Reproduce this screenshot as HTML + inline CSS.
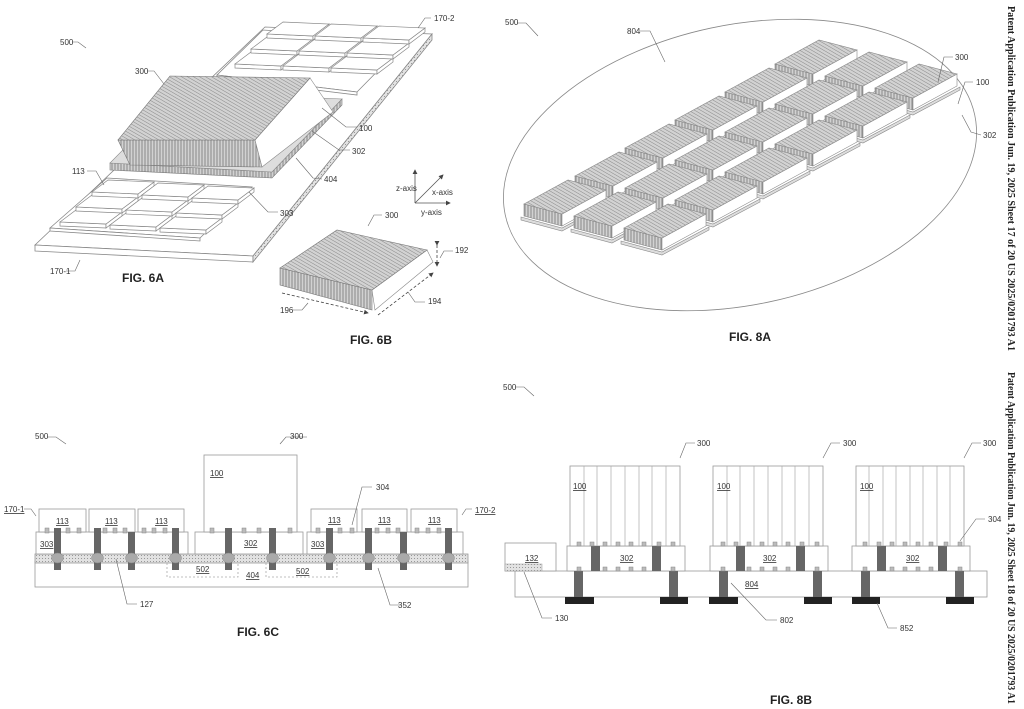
<!DOCTYPE html>
<html><head><meta charset="utf-8"><style>
html,body{margin:0;padding:0;background:#fff}
svg{display:block}
text{font-family:"Liberation Sans",sans-serif;font-size:8px;fill:#333}
.fig{font-size:12px;font-weight:bold;fill:#222}
.u{text-decoration:underline}
.hdr{font-family:"Liberation Serif",serif;font-size:10px;font-weight:bold;fill:#222}
</style></head><body>
<svg width="1024" height="709" viewBox="0 0 1024 709" xmlns="http://www.w3.org/2000/svg">
<defs>
<pattern id="hd" width="3" height="3" patternUnits="userSpaceOnUse" patternTransform="rotate(-60)"><rect width="3" height="3" fill="#d2d2d2"/><line x1="0" y1="0" x2="0" y2="3" stroke="#888" stroke-width="1"/></pattern>
<pattern id="hv" width="3" height="3" patternUnits="userSpaceOnUse"><rect width="3" height="3" fill="#d2d2d2"/><line x1="1" y1="0" x2="1" y2="3" stroke="#888" stroke-width="1"/></pattern>
<pattern id="dt" width="3" height="3" patternUnits="userSpaceOnUse"><rect width="3" height="3" fill="#e2e2e2"/><rect width="1" height="1" fill="#999"/></pattern>
<g id="chip" fill="#fff" stroke="#888" stroke-width="0.7">
<polygon points="0,0 46,2 46,6 0,4"/><polygon points="46,2 62,-10 62,-6 46,6"/><polygon points="0,0 16,-12 62,-10 46,2"/>
</g>
<g id="hs" stroke="#888" stroke-width="0.6">
<polygon points="-3,13 38,24 85,-1 85,2 38,27 -3,16" fill="#ddd"/>
<polygon points="0,0 38,10 38,22 0,12" fill="url(#hv)"/>
<polygon points="38,10 82,-14 82,-2 38,22" fill="#fff"/>
<polygon points="0,0 44,-24 82,-14 38,10" fill="url(#hd)"/>
</g>
<marker id="ar" markerWidth="6" markerHeight="6" refX="5" refY="3" orient="auto"><path d="M0,0 L6,3 L0,6z" fill="#444"/></marker>
</defs>

<!-- ===== FIG 6A ===== -->
<g stroke="#888" stroke-width="0.8" fill="#fff">
<polygon points="35,245 253,256 432,34 265,27"/>
<polygon points="35,245 253,256 253,262 35,251"/>
<polygon points="253,256 432,34 432,40 253,262" fill="url(#dt)"/>
<polygon points="50,228 200,238 252,187 107,178"/>
<polygon points="50,228 200,238 200,241 50,231"/>
<polygon points="217,75 357,92 408,40 263,30"/>
<polygon points="217,75 357,92 357,95 217,78"/>
</g>
<use href="#chip" x="60" y="222"/><use href="#chip" x="110" y="225"/><use href="#chip" x="160" y="228"/>
<use href="#chip" x="76" y="207"/><use href="#chip" x="126" y="210"/><use href="#chip" x="176" y="213"/>
<use href="#chip" x="92" y="192"/><use href="#chip" x="142" y="195"/><use href="#chip" x="192" y="198"/>
<use href="#chip" x="235" y="64"/><use href="#chip" x="283" y="66"/><use href="#chip" x="331" y="68"/>
<use href="#chip" x="251" y="49"/><use href="#chip" x="299" y="51"/><use href="#chip" x="347" y="53"/>
<use href="#chip" x="267" y="34"/><use href="#chip" x="315" y="36"/><use href="#chip" x="363" y="38"/>
<polygon points="110,163 272,172 342,99 342,105 272,178 110,170" fill="url(#hv)" stroke="#777" stroke-width="0.6"/>
<polygon points="110,163 272,172 342,99 180,92" fill="#ddd" stroke="#888" stroke-width="0.6"/>
<polygon points="118,140 255,140 262,167 130,165" fill="url(#hv)" stroke="#777" stroke-width="0.6"/>
<polygon points="310,78 333,112 262,167 255,140" fill="#fff" stroke="#888" stroke-width="0.6"/>
<polygon points="118,140 170,76 310,78 255,140" fill="url(#hd)" stroke="#777" stroke-width="0.6"/>
<g stroke="#555" stroke-width="0.8" fill="none">
<line x1="415" y1="203" x2="415" y2="170" marker-end="url(#ar)"/>
<line x1="415" y1="203" x2="450" y2="203" marker-end="url(#ar)"/>
<line x1="415" y1="203" x2="443" y2="175" marker-end="url(#ar)"/>
</g>
<text x="396" y="191">z-axis</text><text x="432" y="195">x-axis</text><text x="421" y="215">y-axis</text>
<g stroke="#666" stroke-width="0.6" fill="none">
<path d="M72,42 L78,42 L86,48"/><path d="M147,71 L154,71 L164,84"/><path d="M431,18 L425,18 L418,28"/>
<path d="M357,127 L346,127 L322,108"/><path d="M350,150 L339,150 L312,131"/><path d="M322,179 L313,178 L296,158"/>
<path d="M87,171 L96,171 L104,185"/><path d="M278,212 L268,212 L249,192"/><path d="M66,271 L75,271 L80,260"/>
<path d="M382,215 L374,215 L368,226"/><path d="M453,251 L444,251 L440,258"/><path d="M425,302 L415,302 L408,292"/><path d="M293,310 L302,310 L308,303"/>
</g>
<text x="60" y="45">500</text><text x="135" y="74">300</text><text x="434" y="21">170-2</text>
<text x="359" y="131">100</text><text x="352" y="154">302</text><text x="324" y="182">404</text>
<text x="72" y="174">113</text><text x="280" y="216">303</text><text x="50" y="274">170-1</text>
<text class="fig" x="122" y="282">FIG. 6A</text>
<polygon points="280,268 372,290 372,310 280,285" fill="url(#hv)" stroke="#777" stroke-width="0.6"/>
<polygon points="372,290 427,250 433,262 375,310" fill="#fff" stroke="#888" stroke-width="0.6"/>
<polygon points="280,268 337,230 427,250 372,290" fill="url(#hd)" stroke="#777" stroke-width="0.6"/>
<g stroke="#444" stroke-width="0.8" stroke-dasharray="3,2" fill="none">
<line x1="437" y1="245" x2="437" y2="266" marker-end="url(#ar)" marker-start="url(#ar)"/>
<line x1="378" y1="315" x2="433" y2="273" marker-end="url(#ar)"/>
<line x1="282" y1="293" x2="368" y2="313" marker-end="url(#ar)"/>
</g>
<text x="385" y="218">300</text><text x="455" y="253">192</text><text x="428" y="304">194</text><text x="280" y="313">196</text>
<text class="fig" x="350" y="344">FIG. 6B</text>

<!-- ===== FIG 8A ===== -->
<ellipse cx="740" cy="165" rx="240" ry="140" transform="rotate(-12 740 165)" fill="none" stroke="#888" stroke-width="0.8"/>
<use href="#hs" x="775" y="64"/><use href="#hs" x="725" y="92"/><use href="#hs" x="675" y="120"/><use href="#hs" x="625" y="148"/><use href="#hs" x="575" y="176"/><use href="#hs" x="524" y="204"/>
<use href="#hs" x="825" y="76"/><use href="#hs" x="775" y="104"/><use href="#hs" x="725" y="132"/><use href="#hs" x="675" y="160"/><use href="#hs" x="625" y="188"/><use href="#hs" x="574" y="216"/>
<use href="#hs" x="875" y="88"/><use href="#hs" x="825" y="116"/><use href="#hs" x="775" y="144"/><use href="#hs" x="725" y="172"/><use href="#hs" x="675" y="200"/><use href="#hs" x="624" y="228"/>
<g stroke="#666" stroke-width="0.6" fill="none">
<path d="M517,23 L526,23 L538,36"/><path d="M640,31 L650,31 L665,62"/><path d="M953,57 L944,57 L938,82"/>
<path d="M973,82 L965,82 L958,104"/><path d="M981,135 L971,132 L962,115"/>
</g>
<text x="505" y="25">500</text><text x="627" y="34">804</text><text x="955" y="60">300</text><text x="976" y="85">100</text><text x="983" y="138">302</text>
<text class="fig" x="729" y="341">FIG. 8A</text>

<!-- ===== FIG 6C ===== -->
<g stroke="#999" stroke-width="0.8" fill="#fff">
<rect x="35" y="561" width="433" height="26"/>
<rect x="35" y="554" width="433" height="9" fill="url(#dt)"/>
<rect x="36" y="532" width="152" height="22"/><rect x="195" y="532" width="108" height="22"/><rect x="307" y="532" width="156" height="22"/>
<rect x="39" y="509" width="47" height="23"/><rect x="89" y="509" width="46" height="23"/><rect x="138" y="509" width="46" height="23"/>
<rect x="311" y="509" width="46" height="23"/><rect x="362" y="509" width="45" height="23"/><rect x="411" y="509" width="46" height="23"/>
<rect x="204" y="455" width="93" height="77"/>
</g>
<g fill="none" stroke="#aaa" stroke-width="0.8" stroke-dasharray="2,2"><rect x="167" y="563" width="71" height="14"/><rect x="266" y="563" width="71" height="14"/></g>
<g fill="#bbb" stroke="#888" stroke-width="0.5">
<rect x="45" y="528" width="4" height="5"/><rect x="66" y="528" width="4" height="5"/><rect x="77" y="528" width="4" height="5"/>
<rect x="103" y="528" width="4" height="5"/><rect x="113" y="528" width="4" height="5"/><rect x="123" y="528" width="4" height="5"/>
<rect x="142" y="528" width="4" height="5"/><rect x="152" y="528" width="4" height="5"/><rect x="163" y="528" width="4" height="5"/>
<rect x="210" y="528" width="4" height="5"/><rect x="242" y="528" width="4" height="5"/><rect x="257" y="528" width="4" height="5"/><rect x="288" y="528" width="4" height="5"/>
<rect x="316" y="528" width="4" height="5"/><rect x="338" y="528" width="4" height="5"/><rect x="350" y="528" width="4" height="5"/>
<rect x="375" y="528" width="4" height="5"/><rect x="386" y="528" width="4" height="5"/><rect x="396" y="528" width="4" height="5"/>
<rect x="415" y="528" width="4" height="5"/><rect x="426" y="528" width="4" height="5"/><rect x="437" y="528" width="4" height="5"/>
</g>
<g fill="#666">
<rect x="54" y="528" width="7" height="42"/><rect x="94" y="528" width="7" height="42"/><rect x="128" y="532" width="7" height="38"/><rect x="172" y="528" width="7" height="42"/>
<rect x="225" y="528" width="7" height="42"/><rect x="269" y="528" width="7" height="42"/><rect x="326" y="528" width="7" height="42"/><rect x="365" y="528" width="7" height="42"/>
<rect x="400" y="532" width="7" height="38"/><rect x="445" y="528" width="7" height="42"/>
</g>
<g fill="#aaa" stroke="#888" stroke-width="0.5">
<ellipse cx="57.5" cy="558" rx="6" ry="5"/><ellipse cx="97.5" cy="558" rx="6" ry="5"/><ellipse cx="131.5" cy="558" rx="6" ry="5"/><ellipse cx="175.5" cy="558" rx="6" ry="5"/>
<ellipse cx="228.5" cy="558" rx="6" ry="5"/><ellipse cx="272.5" cy="558" rx="6" ry="5"/><ellipse cx="329.5" cy="558" rx="6" ry="5"/><ellipse cx="368.5" cy="558" rx="6" ry="5"/>
<ellipse cx="403.5" cy="558" rx="6" ry="5"/><ellipse cx="448.5" cy="558" rx="6" ry="5"/>
</g>
<g stroke="#666" stroke-width="0.6" fill="none">
<path d="M47,437 L56,437 L66,444"/><path d="M307,437 L286,437 L280,444"/><path d="M24,509 L31,509 L36,516"/><path d="M472,509 L466,509 L462,515"/>
<path d="M372,487 L362,487 L352,525"/><path d="M137,604 L127,604 L116,559"/><path d="M400,605 L390,605 L378,568"/>
</g>
<text x="35" y="439">500</text><text x="290" y="439">300</text>
<text class="u" x="4" y="512">170-1</text><text class="u" x="475" y="513">170-2</text>
<text class="u" x="56" y="524">113</text><text class="u" x="105" y="524">113</text><text class="u" x="155" y="524">113</text>
<text class="u" x="328" y="523">113</text><text class="u" x="378" y="523">113</text><text class="u" x="428" y="523">113</text>
<text class="u" x="40" y="547">303</text><text class="u" x="244" y="546">302</text><text class="u" x="311" y="547">303</text>
<text class="u" x="210" y="476">100</text><text class="u" x="196" y="572">502</text><text class="u" x="246" y="578">404</text><text class="u" x="296" y="574">502</text>
<text x="376" y="490">304</text><text x="140" y="607">127</text><text x="398" y="608">352</text>
<text class="fig" x="237" y="636">FIG. 6C</text>

<!-- ===== FIG 8B ===== -->
<g stroke="#999" stroke-width="0.8" fill="#fff">
<rect x="515" y="571" width="472" height="26"/>
<rect x="505" y="543" width="51" height="28"/>
<rect x="567" y="546" width="118" height="25"/><rect x="710" y="546" width="118" height="25"/><rect x="852" y="546" width="118" height="25"/>
<rect x="570" y="466" width="110" height="80"/><rect x="713" y="466" width="110" height="80"/><rect x="856" y="466" width="108" height="80"/>
</g>
<rect x="505" y="564" width="37" height="7" fill="url(#dt)" stroke="#999" stroke-width="0.5"/>
<g stroke="#aaa" stroke-width="0.7">
<line x1="584" y1="466" x2="584" y2="546"/><line x1="597" y1="466" x2="597" y2="546"/><line x1="611" y1="466" x2="611" y2="546"/><line x1="625" y1="466" x2="625" y2="546"/><line x1="639" y1="466" x2="639" y2="546"/><line x1="652" y1="466" x2="652" y2="546"/><line x1="666" y1="466" x2="666" y2="546"/>
<line x1="727" y1="466" x2="727" y2="546"/><line x1="740" y1="466" x2="740" y2="546"/><line x1="754" y1="466" x2="754" y2="546"/><line x1="768" y1="466" x2="768" y2="546"/><line x1="782" y1="466" x2="782" y2="546"/><line x1="795" y1="466" x2="795" y2="546"/><line x1="809" y1="466" x2="809" y2="546"/>
<line x1="869" y1="466" x2="869" y2="546"/><line x1="883" y1="466" x2="883" y2="546"/><line x1="896" y1="466" x2="896" y2="546"/><line x1="910" y1="466" x2="910" y2="546"/><line x1="923" y1="466" x2="923" y2="546"/><line x1="937" y1="466" x2="937" y2="546"/><line x1="950" y1="466" x2="950" y2="546"/>
</g>
<g fill="#666">
<rect x="591" y="546" width="9" height="25"/><rect x="652" y="546" width="9" height="25"/>
<rect x="736" y="546" width="9" height="25"/><rect x="796" y="546" width="9" height="25"/>
<rect x="877" y="546" width="9" height="25"/><rect x="938" y="546" width="9" height="25"/>
<rect x="574" y="571" width="9" height="26"/><rect x="669" y="571" width="9" height="26"/><rect x="719" y="571" width="9" height="26"/>
<rect x="813" y="571" width="9" height="26"/><rect x="861" y="571" width="9" height="26"/><rect x="955" y="571" width="9" height="26"/>
</g>
<g fill="#222">
<rect x="565" y="597" width="29" height="7"/><rect x="660" y="597" width="28" height="7"/><rect x="709" y="597" width="29" height="7"/>
<rect x="804" y="597" width="28" height="7"/><rect x="852" y="597" width="28" height="7"/><rect x="946" y="597" width="28" height="7"/>
</g>
<g fill="#bbb" stroke="#888" stroke-width="0.5">
<rect x="577" y="542" width="4" height="4"/><rect x="590" y="542" width="4" height="4"/><rect x="603" y="542" width="4" height="4"/><rect x="616" y="542" width="4" height="4"/><rect x="629" y="542" width="4" height="4"/><rect x="642" y="542" width="4" height="4"/><rect x="657" y="542" width="4" height="4"/><rect x="671" y="542" width="4" height="4"/>
<rect x="577" y="567" width="4" height="4"/><rect x="603" y="567" width="4" height="4"/><rect x="616" y="567" width="4" height="4"/><rect x="629" y="567" width="4" height="4"/><rect x="642" y="567" width="4" height="4"/><rect x="671" y="567" width="4" height="4"/>
<rect x="721" y="542" width="4" height="4"/><rect x="734" y="542" width="4" height="4"/><rect x="747" y="542" width="4" height="4"/><rect x="760" y="542" width="4" height="4"/><rect x="773" y="542" width="4" height="4"/><rect x="786" y="542" width="4" height="4"/><rect x="800" y="542" width="4" height="4"/><rect x="815" y="542" width="4" height="4"/>
<rect x="721" y="567" width="4" height="4"/><rect x="747" y="567" width="4" height="4"/><rect x="760" y="567" width="4" height="4"/><rect x="773" y="567" width="4" height="4"/><rect x="786" y="567" width="4" height="4"/><rect x="815" y="567" width="4" height="4"/>
<rect x="863" y="542" width="4" height="4"/><rect x="877" y="542" width="4" height="4"/><rect x="890" y="542" width="4" height="4"/><rect x="903" y="542" width="4" height="4"/><rect x="916" y="542" width="4" height="4"/><rect x="929" y="542" width="4" height="4"/><rect x="944" y="542" width="4" height="4"/><rect x="958" y="542" width="4" height="4"/>
<rect x="863" y="567" width="4" height="4"/><rect x="890" y="567" width="4" height="4"/><rect x="903" y="567" width="4" height="4"/><rect x="916" y="567" width="4" height="4"/><rect x="929" y="567" width="4" height="4"/><rect x="958" y="567" width="4" height="4"/>
</g>
<g stroke="#666" stroke-width="0.6" fill="none">
<path d="M515,387 L524,387 L534,396"/><path d="M695,443 L686,443 L680,458"/><path d="M840,443 L831,443 L823,458"/><path d="M981,443 L972,443 L964,458"/>
<path d="M985,519 L976,519 L960,541"/><path d="M552,618 L542,618 L524,572"/><path d="M777,620 L766,620 L731,583"/><path d="M897,628 L888,628 L877,603"/>
</g>
<text x="503" y="390">500</text><text x="697" y="446">300</text><text x="843" y="446">300</text><text x="983" y="446">300</text>
<text class="u" x="573" y="489">100</text><text class="u" x="717" y="489">100</text><text class="u" x="860" y="489">100</text>
<text class="u" x="620" y="561">302</text><text class="u" x="763" y="561">302</text><text class="u" x="906" y="561">302</text>
<text class="u" x="525" y="561">132</text><text class="u" x="745" y="587">804</text>
<text x="988" y="522">304</text><text x="555" y="621">130</text><text x="780" y="623">802</text><text x="900" y="631">852</text>
<text class="fig" x="770" y="704">FIG. 8B</text>

<text class="hdr" transform="translate(1008,6) rotate(90)" textLength="345" lengthAdjust="spacingAndGlyphs">Patent  Application  Publication      Jun. 19, 2025  Sheet  17  of  20      US 2025/0201793 A1</text>
<text class="hdr" transform="translate(1008,372) rotate(90)" textLength="332" lengthAdjust="spacingAndGlyphs">Patent  Application  Publication      Jun. 19, 2025  Sheet  18  of  20      US 2025/0201793 A1</text>
</svg>
</body></html>
